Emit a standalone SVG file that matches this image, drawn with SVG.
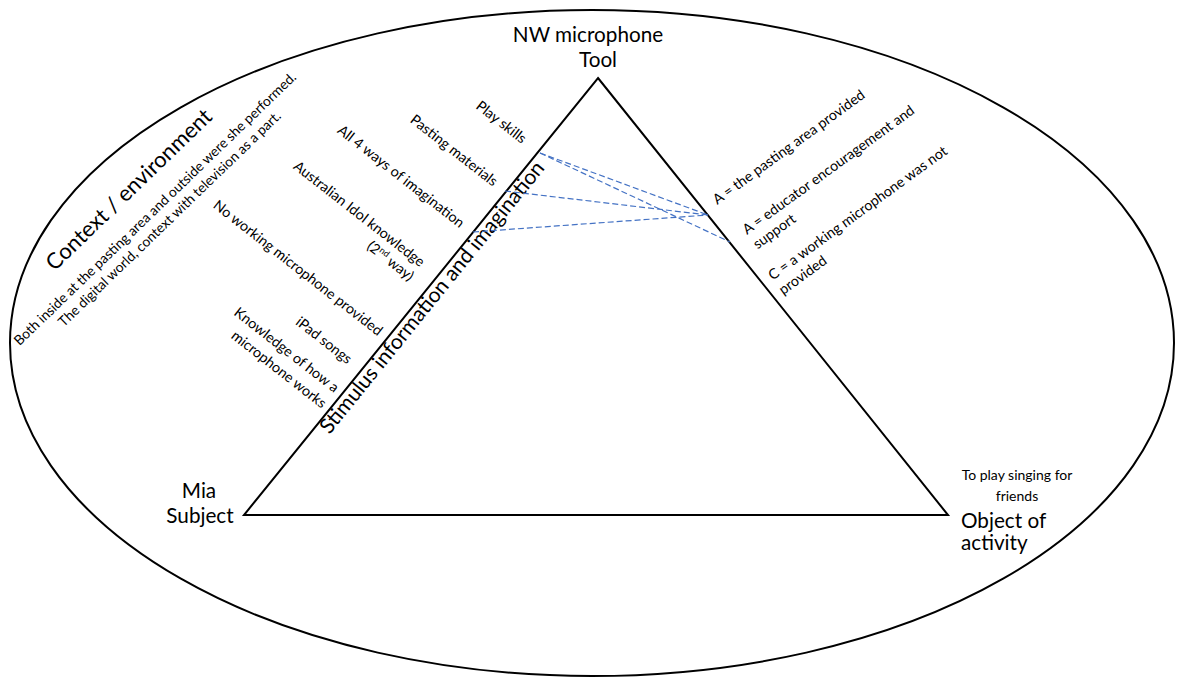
<svg xmlns="http://www.w3.org/2000/svg" width="1181" height="677" viewBox="0 0 1181 677">
  <style>
    text { font-family: Lato, "Open Sans", "Liberation Sans", sans-serif; fill: #000; }
    .lbl { font-size: 20.7px; }
    .sm { font-size: 14px; }
    .item { font-size: 14.3px; }
    .ctx { font-size: 13.8px; }
    .big { font-size: 22px; }
    .edge { font-size: 21px; }
    .shape { fill: none; stroke: #000; stroke-width: 2; }
    .link { fill: none; stroke: #4472C4; stroke-width: 1.2; stroke-dasharray: 6 3; }
  </style>

  <rect width="1181" height="677" fill="#fff"/>

  <!-- surrounding context -->
  <g id="context">
    <ellipse class="shape" cx="592" cy="343" rx="582" ry="333"/>
    <text class="big" text-anchor="middle" transform="translate(134,195) rotate(-44)">Context / environment</text>
    <text class="ctx" text-anchor="middle" transform="translate(158.3,212.2) rotate(-44)">Both inside at the pasting area and outside were she performed.</text>
    <text class="ctx" text-anchor="middle" transform="translate(172.8,222.2) rotate(-44)">The digital world, context with television as a part.</text>
  </g>

  <!-- activity triangle -->
  <g id="triangle">
    <polygon class="shape" points="598,78 948,515 244,515" stroke-linejoin="miter"/>
  </g>

  <g id="tool">
    <text class="lbl" text-anchor="middle" x="588" y="42">NW microphone</text>
    <text class="lbl" text-anchor="middle" x="598" y="67">Tool</text>
  </g>

  <g id="subject">
    <text class="lbl" text-anchor="middle" x="199" y="498">Mia</text>
    <text class="lbl" text-anchor="middle" x="200" y="523">Subject</text>
  </g>

  <g id="object">
    <text class="lbl" x="961" y="528">Object of</text>
    <text class="lbl" x="961" y="550">activity</text>
    <text class="sm" text-anchor="middle" x="1017" y="480">To play singing for</text>
    <text class="sm" text-anchor="middle" x="1017" y="501">friends</text>
  </g>

  <!-- mediating stimuli along the left edge -->
  <g id="stimulus">
    <text class="edge" text-anchor="middle" transform="translate(437.5,301.7) rotate(-51)">Stimulus information and imagination</text>
    <text class="item" text-anchor="middle" transform="translate(498.3,125.9) rotate(38)">Play skills</text>
    <text class="item" text-anchor="middle" transform="translate(451,154.2) rotate(38)">Pasting materials</text>
    <text class="item" text-anchor="middle" transform="translate(398,180.2) rotate(38)">All 4 ways of imagination</text>
    <text class="item" text-anchor="end" transform="translate(420,267.5) rotate(38)">Australian Idol knowledge</text>
    <text class="item" text-anchor="end" transform="translate(409,281.5) rotate(38)">(2<tspan font-size="9" dy="-5">nd</tspan><tspan dy="5"> way)</tspan></text>
    <text class="item" text-anchor="middle" transform="translate(295,271.7) rotate(38)">No working microphone provided</text>
    <text class="item" text-anchor="middle" transform="translate(321,344.2) rotate(38)">iPad songs</text>
    <text class="item" text-anchor="middle" transform="translate(283.5,353.7) rotate(38)">Knowledge of how a</text>
    <text class="item" text-anchor="middle" transform="translate(276,373.2) rotate(38)">microphone works</text>
  </g>

  <!-- outcomes along the right edge -->
  <g id="outcomes">
    <text class="item" transform="translate(717.3,205) rotate(-36)">A = the pasting area provided</text>
    <text class="item" transform="translate(747,235) rotate(-36)">A = educator encouragement and</text>
    <text class="item" transform="translate(757.6,249.6) rotate(-36)">support</text>
    <text class="item" transform="translate(772.7,280.7) rotate(-36)">C = a working microphone was not</text>
    <text class="item" transform="translate(783.3,295.3) rotate(-36)">provided</text>
  </g>

  <!-- dashed links between stimuli and outcomes -->
  <g id="connectors">
    <line class="link" x1="540" y1="153" x2="708" y2="215"/>
    <line class="link" x1="540" y1="153" x2="730" y2="242"/>
    <line class="link" x1="505" y1="191" x2="708" y2="215"/>
    <line class="link" x1="473" y1="232" x2="708" y2="215"/>
  </g>
</svg>
